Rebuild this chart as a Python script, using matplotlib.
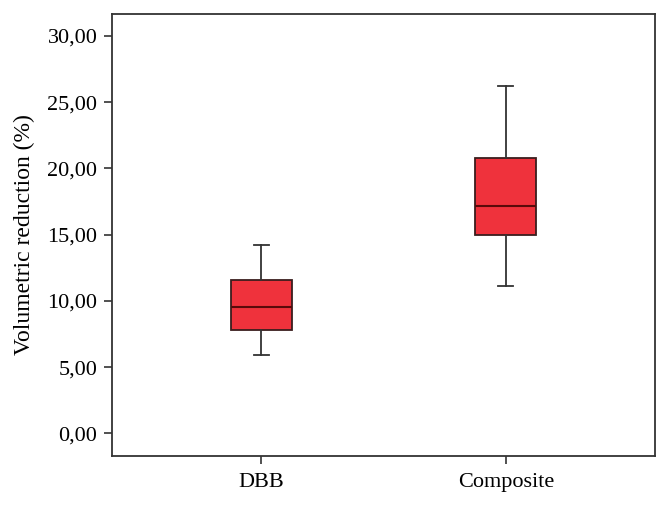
import matplotlib.pyplot as plt
from matplotlib.ticker import FuncFormatter

plt.rcParams['font.family'] = ['Liberation Serif', 'DejaVu Serif']

groups = ['DBB', 'Composite']
whisker_low = [5.93, 11.12]
q1 = [7.80, 14.94]
median = [9.51, 17.18]
q3 = [11.55, 20.80]
whisker_high = [14.2, 26.23]

stats = []
for i, g in enumerate(groups):
    stats.append({'label': g, 'whislo': whisker_low[i], 'q1': q1[i], 'med': median[i],
                  'q3': q3[i], 'whishi': whisker_high[i], 'fliers': []})

fig = plt.figure(figsize=(6.7, 5.05), dpi=100)
ax = fig.add_axes([112 / 670, 1 - 455.7 / 505, (655 - 112) / 670, (455.7 - 14) / 505])

ax.bxp(stats, positions=[1, 2], widths=0.25, patch_artist=True, showfliers=False,
       boxprops=dict(facecolor='#ef323c', edgecolor='#3a1e1e', linewidth=1.3),
       medianprops=dict(color='#5a0a0a', linewidth=1.5),
       whiskerprops=dict(color='#333333', linewidth=1.3),
       capprops=dict(color='#333333', linewidth=1.3),
       capwidths=0.062)

ax.set_xlim(0.39, 2.61)
ax.set_ylim(-1.69, 31.65)
ax.set_yticks([0, 5, 10, 15, 20, 25, 30])
ax.yaxis.set_major_formatter(FuncFormatter(lambda v, p: f'{v:.2f}'.replace('.', ',')))
ax.set_xticks([1, 2])
ax.set_xticklabels(groups)
ax.tick_params(labelsize=16, color='#333333', length=5.5, width=1.2)
ax.tick_params(axis='y', pad=5)
ax.tick_params(axis='x', pad=7)
for s in ax.spines.values():
    s.set_color('#333333')
    s.set_linewidth(1.3)
ax.set_ylabel('Volumetric reduction (%)', fontsize=17, labelpad=9)

fig.savefig('out.png', dpi=100)
